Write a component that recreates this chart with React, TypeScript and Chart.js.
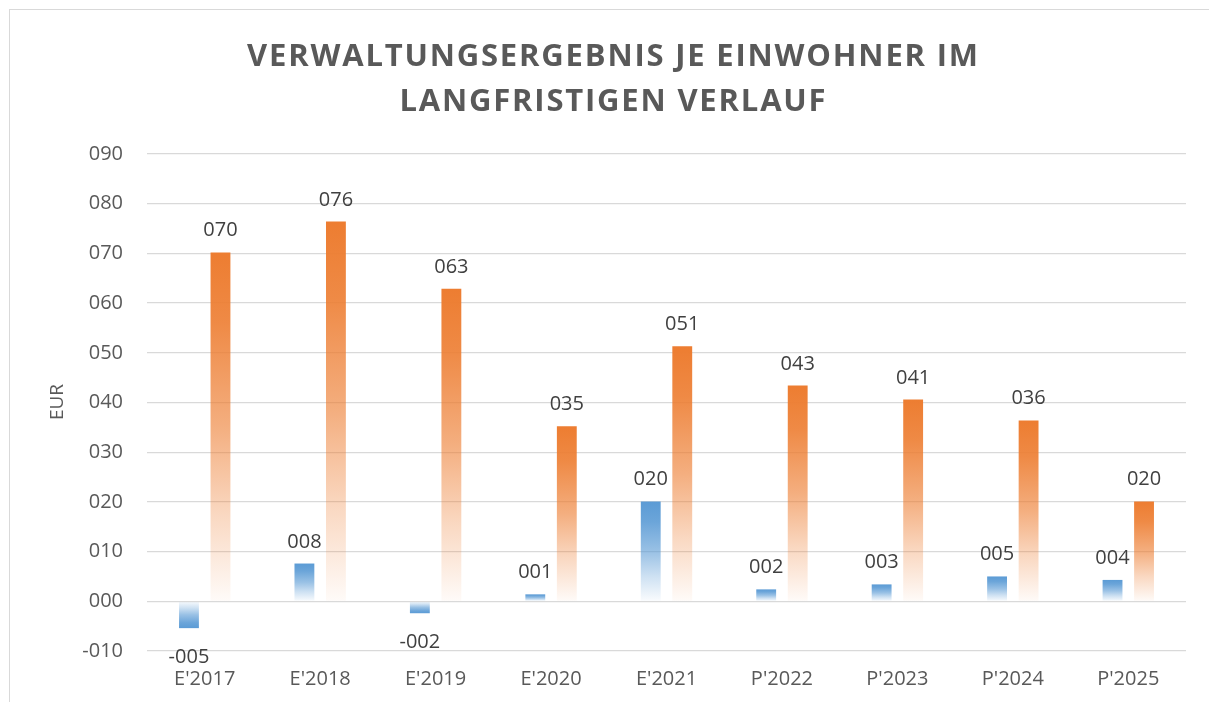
import React, { useEffect, useRef } from "react";
import { Chart, registerables } from "chart.js";

Chart.register(...registerables);

const categories = ["E'2017", "E'2018", "E'2019", "E'2020", "E'2021", "P'2022", "P'2023", "P'2024", "P'2025"];
const blueValues = [-5.4, 7.6, -2.4, 1.4, 20.1, 2.4, 3.4, 5.0, 4.3];
const orangeValues = [70.2, 76.4, 62.9, 35.2, 51.3, 43.4, 40.6, 36.4, 20.1];
const titleLines = ["VERWALTUNGSERGEBNIS JE EINWOHNER IM", "LANGFRISTIGEN VERLAUF"];
const yAxisTitle = "EUR";
const yMin = -10;
const yMax = 90;
const yStep = 10;

const FONT = '"Open Sans", "Liberation Sans", sans-serif';

function pad3(v: number): string {
  const r = Math.round(v);
  const s = String(Math.abs(r)).padStart(3, "0");
  return r < 0 ? "-" + s : s;
}

function gradientFill(rgb: [number, number, number]) {
  return (ctx: any) => {
    const chart = ctx.chart;
    const area = chart.chartArea;
    const [r, g, b] = rgb;
    const solid = `rgb(${r},${g},${b})`;
    if (!area || ctx.type !== "data") return solid;
    const y = chart.scales.y;
    const v = ctx.raw as number;
    const y0 = y.getPixelForValue(0);
    const y1 = y.getPixelForValue(v);
    if (Math.abs(y0 - y1) < 1) return solid;
    const grad = chart.ctx.createLinearGradient(0, y1, 0, y0);
    grad.addColorStop(0, `rgba(${r},${g},${b},1)`);
    grad.addColorStop(0.2, `rgba(${r},${g},${b},0.9)`);
    grad.addColorStop(0.5, `rgba(${r},${g},${b},0.62)`);
    grad.addColorStop(0.75, `rgba(${r},${g},${b},0.3)`);
    grad.addColorStop(1, `rgba(${r},${g},${b},0.03)`);
    return grad;
  };
}

const decorPlugin = {
  id: "decor",
  beforeDraw(chart: any) {
    const c = chart.ctx;
    c.save();
    c.fillStyle = "#ffffff";
    c.fillRect(0, 0, chart.width, chart.height);
    c.strokeStyle = "#d9d9d9";
    c.lineWidth = 1;
    c.strokeRect(9.5, 9.5, 1215, 700);
    c.restore();
  },
  afterDraw(chart: any) {
    const c = chart.ctx;
    c.save();
    // Title
    c.fillStyle = "#595959";
    c.font = `bold 31px ${FONT}`;
    c.textAlign = "left";
    c.textBaseline = "alphabetic";
    const targetW = 731;
    const w0 = c.measureText(titleLines[0]).width;
    const spacing = Math.max(0, (targetW - w0) / (titleLines[0].length - 1));
    (c as any).letterSpacing = spacing.toFixed(2) + "px";
    const cx = 612.5;
    const baselines = [66, 111];
    titleLines.forEach((line, i) => {
      const w = c.measureText(line).width - spacing;
      c.fillText(line, cx - w / 2, baselines[i]);
    });
    (c as any).letterSpacing = "0px";
    // Y axis title
    c.font = `19px ${FONT}`;
    c.fillStyle = "#595959";
    c.translate(58, 402);
    c.rotate(-Math.PI / 2);
    c.textAlign = "center";
    c.textBaseline = "middle";
    c.fillText(yAxisTitle, 0, 0);
    c.restore();
  },
  afterDatasetsDraw(chart: any) {
    const c = chart.ctx;
    c.save();
    c.font = `20px ${FONT}`;
    c.fillStyle = "#404040";
    c.textAlign = "center";
    c.textBaseline = "alphabetic";
    chart.data.datasets.forEach((ds: any, di: number) => {
      const meta = chart.getDatasetMeta(di);
      meta.data.forEach((el: any, i: number) => {
        const v = ds.data[i] as number;
        const label = pad3(v);
        if (v >= 0) {
          c.fillText(label, el.x, el.y - 16);
        } else {
          c.fillText(label, el.x, el.y + 35);
        }
      });
    });
    c.restore();
  },
};

export default function App() {
  const ref = useRef<HTMLCanvasElement | null>(null);
  useEffect(() => {
    let chart: Chart | null = null;
    let cancelled = false;
    const make = () => {
      if (cancelled || !ref.current) return;
      chart = new Chart(ref.current, {
        type: "bar",
        data: {
          labels: categories,
          datasets: [
            {
              label: "A",
              data: blueValues,
              backgroundColor: gradientFill([91, 155, 213]) as any,
              borderWidth: 0,
              categoryPercentage: 0.546,
              barPercentage: 0.63,
            },
            {
              label: "B",
              data: orangeValues,
              backgroundColor: gradientFill([237, 125, 49]) as any,
              borderWidth: 0,
              categoryPercentage: 0.546,
              barPercentage: 0.63,
            },
          ],
        },
        options: {
          responsive: false,
          animation: false,
          layout: { padding: { top: 154, left: 0, right: 23, bottom: 0 } },
          plugins: {
            legend: { display: false },
            title: { display: false },
            tooltip: { enabled: false },
          },
          scales: {
            x: {
              grid: { display: false, drawTicks: false },
              border: { display: false },
              ticks: {
                color: "#595959",
                font: { family: FONT, size: 20 },
                padding: 16,
                maxRotation: 0,
              },
              afterFit: (s: any) => {
                s.height = 51;
              },
            },
            y: {
              min: yMin,
              max: yMax,
              grid: { color: "#d9d9d9", lineWidth: 1.3, drawTicks: false },
              border: { display: false },
              ticks: {
                stepSize: yStep,
                color: "#595959",
                font: { family: FONT, size: 20 },
                padding: 24,
                callback: (v: any) => pad3(Number(v)),
              },
              afterFit: (s: any) => {
                s.width = 147;
              },
            },
          },
        },
        plugins: [decorPlugin],
      });
    };
    const fontsAny = (document as any).fonts;
    if (fontsAny && fontsAny.load) {
      Promise.all([
        fontsAny.load(`bold 31px "Open Sans"`),
        fontsAny.load(`20px "Open Sans"`),
      ])
        .catch(() => null)
        .then(make);
    } else {
      make();
    }
    return () => {
      cancelled = true;
      if (chart) chart.destroy();
    };
  }, []);
  return (
    <div style={{ position: "absolute", left: 0, top: 0, width: 1209, height: 702 }}>
      <canvas ref={ref} width={1209} height={702} style={{ display: "block" }} />
    </div>
  );
}
